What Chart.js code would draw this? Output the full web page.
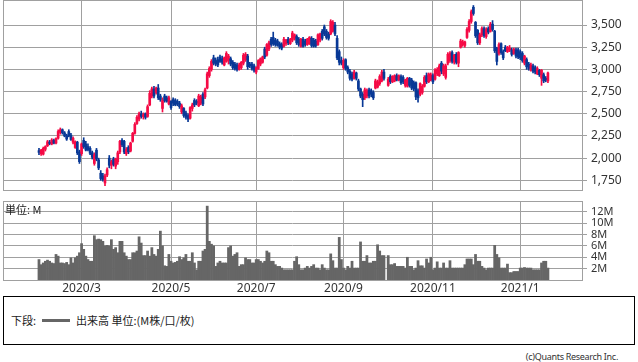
<!DOCTYPE html>
<html>
<head>
<meta charset="utf-8">
<script src="https://cdn.jsdelivr.net/npm/chart.js@4.4.0/dist/chart.umd.min.js"></script>
<style>
    body { margin: 0; background: #fff; width: 638px; height: 362px; position: relative; overflow: hidden; font-family: "Noto Sans", sans-serif; }
    #price { position: absolute; left: 0; top: 0; }
    #vol { position: absolute; left: 0; top: 195px; }
    #unit { position: absolute; left: 5px; top: 203px; font-size: 11px; line-height: 13px; color: #222; font-family: "Noto Sans CJK JP", sans-serif; }
    #legend { position: absolute; left: 3px; top: 296px; width: 630px; height: 47px; border: 1px solid #000; }
    #legend .row { position: absolute; left: 7px; top: 16px; display: flex; align-items: center; font-size: 11px; line-height: 15px; color: #222; font-family: "Noto Sans CJK JP", sans-serif; }
    #legend .swatch { display: inline-block; width: 28px; height: 3px; background: #666; margin: 0 6px 0 6px; }
    #copy { position: absolute; right: 20px; top: 350px; font-size: 9px; line-height: 14px; letter-spacing: -0.3px; color: #333; }
</style>
</head>
<body>
<canvas id="price" width="638" height="191"></canvas>
<canvas id="vol" width="638" height="100"></canvas>
<div id="unit">単位: M</div>
<div id="legend"><div class="row"><span>下段:</span><span class="swatch"></span><span>出来高 単位:(M株/口/枚)</span></div></div>
<div id="copy">(c)Quants Research Inc.</div>
<script>
// 2020/1/30 - 2021/1/22, one entry per trading day (10/1 no trading)
const monthTicks = [20, 62, 102, 143, 185, 226];
const monthLabels = ["2020/3", "2020/5", "2020/7", "2020/9", "2020/11", "2021/1"];
const priceTicks = [1750, 2000, 2250, 2500, 2750, 3000, 3250, 3500];
const volTicks = [2, 4, 6, 8, 10, 12];

const open = [
    2085,2050,2045,2100,2140,2180,2160,2200,2170,2225,
    2290,2320,2285,2250,2300,2260,2180,2120,2180,2070,
    2050,2200,2160,2130,2110,2060,1940,2090,1980,1830,
    1800,1720,1810,2000,1920,1990,1910,1960,2070,2200,
    2190,2050,2120,2080,2190,2280,2390,2440,2500,2470,
    2500,2470,2600,2700,2780,2740,2790,2700,2560,2700,
    2680,2610,2640,2660,2650,2640,2620,2520,2560,2510,
    2480,2450,2560,2650,2640,2590,2620,2720,2690,2790,
    2930,3000,3130,3100,3110,3140,3120,3050,3090,3100,
    3120,3080,3060,3050,3000,3020,3070,3110,3150,3060,
    3060,3040,2970,3010,3060,3080,3230,3160,3230,3340,
    3360,3330,3320,3290,3280,3260,3290,3340,3290,3330,
    3350,3370,3340,3260,3340,3320,3280,3290,3350,3330,
    3320,3280,3330,3430,3480,3430,3400,3400,3430,3500,
    3350,3200,3100,3020,3110,3020,2980,2950,2900,2960,
    2870,2780,2720,2680,2700,2770,2760,2740,2790,2800,
    2840,2870,2970,null,2820,2920,2860,2870,2930,2880,
    2920,2910,2820,2810,2900,2880,2850,2850,2760,2720,
    2740,2810,2930,2860,2880,2930,2890,2950,2930,3070,
    2950,2910,3070,3100,3190,3080,3170,3070,3250,3280,
    3270,3360,3440,3540,3700,3530,3440,3300,3390,3460,
    3370,3460,3430,3510,3430,3240,3180,3290,3200,3250,
    3200,3220,3220,3180,3220,3220,3200,3180,3070,3110,
    3060,2990,3040,3020,2950,2990,2900,2940,2900,2870
];
const high = [
    2110,2100,2125,2140,2200,2200,2220,2215,2230,2320,
    2340,2330,2300,2270,2320,2280,2240,2195,2190,2090,
    2170,2230,2190,2160,2130,2080,2060,2110,2000,1860,
    1830,1820,1890,2030,1980,2010,2000,2080,2200,2220,
    2200,2120,2140,2180,2290,2400,2480,2520,2530,2510,
    2510,2600,2760,2800,2810,2800,2830,2720,2680,2720,
    2700,2700,2650,2680,2670,2660,2640,2610,2570,2530,
    2500,2580,2620,2670,2660,2720,2710,2740,2790,2970,
    3030,3110,3160,3130,3140,3160,3150,3140,3200,3170,
    3140,3100,3080,3070,3070,3090,3180,3190,3170,3080,
    3080,3060,3030,3110,3130,3150,3250,3290,3320,3360,
    3420,3350,3340,3310,3300,3360,3340,3360,3350,3430,
    3400,3390,3360,3350,3360,3340,3350,3370,3370,3350,
    3340,3400,3410,3450,3500,3450,3420,3560,3550,3530,
    3380,3220,3140,3120,3120,3040,3000,2970,2990,2970,
    2890,2790,2740,2790,2780,2790,2780,2760,2890,2880,
    2940,2990,3000,null,2910,2940,2930,2940,2950,2940,
    2940,2930,2890,2910,2910,2900,2870,2860,2780,2850,
    2830,2930,2960,2960,2960,2950,3010,3020,3060,3090,
    3060,3060,3190,3200,3210,3170,3190,3200,3340,3330,
    3320,3470,3560,3670,3720,3540,3450,3410,3480,3480,
    3470,3480,3530,3550,3440,3250,3300,3300,3220,3270,
    3260,3270,3240,3240,3240,3240,3220,3200,3160,3130,
    3080,3070,3060,3040,3030,3000,3000,2960,2920,2970
];
const low = [
    2040,2030,2035,2080,2130,2150,2150,2160,2160,2215,
    2270,2270,2240,2200,2240,2200,2160,2110,2040,1940,
    2030,2110,2080,2080,2040,1990,1920,1970,1870,1750,
    1740,1690,1790,1890,1880,1910,1880,1930,2050,2130,
    2050,2030,2050,2070,2180,2270,2380,2420,2450,2440,
    2440,2460,2590,2680,2680,2720,2660,2640,2520,2630,
    2630,2600,2550,2590,2590,2590,2560,2500,2460,2440,
    2410,2440,2530,2580,2600,2580,2600,2590,2670,2780,
    2910,2980,3050,3040,3030,3080,3060,3040,3080,3060,
    3040,3000,2990,2980,2990,3000,3050,3090,3000,3020,
    2990,2970,2950,3000,3040,3070,3120,3150,3210,3260,
    3270,3260,3260,3230,3220,3250,3270,3280,3280,3310,
    3330,3280,3260,3250,3250,3260,3270,3280,3250,3250,
    3250,3270,3310,3330,3380,3340,3330,3390,3420,3380,
    3110,3050,3050,3000,2990,2950,2880,2870,2890,2880,
    2760,2680,2580,2660,2680,2680,2690,2660,2780,2790,
    2820,2860,2880,null,2810,2840,2850,2860,2870,2870,
    2830,2840,2800,2800,2800,2770,2760,2660,2630,2700,
    2720,2800,2840,2850,2870,2840,2880,2930,2920,2950,
    2930,2890,3050,3080,3070,3060,3060,3030,3240,3260,
    3250,3350,3420,3520,3610,3360,3280,3280,3370,3360,
    3350,3400,3420,3430,3190,3050,3160,3170,3110,3200,
    3190,3200,3150,3170,3130,3120,3110,3080,3050,3000,
    2990,2980,2960,2950,2940,2920,2820,2850,2860,2850
];
const close = [
    2065,2090,2110,2130,2185,2165,2205,2170,2220,2300,
    2320,2285,2250,2215,2250,2210,2225,2185,2060,1960,
    2160,2130,2090,2095,2055,2010,2040,1990,1890,1770,
    1760,1800,1870,1920,1960,1930,1990,2060,2190,2150,
    2070,2100,2070,2170,2280,2380,2460,2500,2470,2490,
    2460,2580,2730,2780,2700,2790,2680,2660,2650,2650,
    2640,2680,2570,2620,2600,2610,2580,2590,2480,2460,
    2440,2570,2600,2600,2620,2700,2690,2610,2770,2950,
    3010,3090,3070,3060,3050,3090,3080,3130,3180,3150,
    3060,3020,3010,3000,3050,3080,3160,3170,3030,3040,
    3010,2990,3020,3100,3120,3140,3140,3280,3300,3280,
    3290,3280,3270,3250,3240,3340,3330,3300,3340,3410,
    3390,3300,3280,3340,3260,3280,3340,3360,3270,3260,
    3270,3390,3400,3350,3400,3360,3350,3540,3530,3400,
    3130,3080,3070,3100,3010,2970,2900,2890,2970,2900,
    2780,2700,2660,2770,2760,2700,2720,2680,2870,2860,
    2920,2970,2900,null,2890,2860,2920,2930,2880,2930,
    2850,2860,2880,2900,2820,2790,2780,2690,2680,2840,
    2810,2910,2860,2950,2940,2860,2990,3000,3040,2980,
    3040,3040,3170,3180,3090,3160,3080,3190,3320,3310,
    3310,3450,3540,3650,3630,3380,3300,3390,3460,3380,
    3450,3420,3510,3450,3210,3090,3280,3190,3130,3210,
    3250,3240,3170,3230,3150,3140,3130,3100,3150,3030,
    3010,3050,2980,2970,3010,2940,2990,2870,2880,2960
];
// volume in millions of shares
const volume = [
    3.6,2.7,3.0,3.3,3.5,3.3,3.0,2.9,4.5,4.2,
    3.0,3.0,2.9,3.1,2.7,3.9,3.0,3.9,4.2,4.8,
    6.4,5.4,4.2,3.6,3.3,3.3,7.8,7.1,7.2,7.1,
    6.8,6.0,6.1,6.0,7.1,5.4,5.7,4.8,6.8,6.8,
    4.8,4.2,3.6,3.6,4.8,4.8,5.1,7.6,6.5,4.3,
    4.3,5.1,4.2,5.7,4.5,4.2,5.4,8.6,6.0,2.5,
    2.4,4.5,3.3,3.0,3.1,3.3,4.1,3.6,3.9,4.5,
    3.3,3.3,4.8,3.0,1.8,3.3,3.3,5.1,5.4,13.0,
    6.8,6.3,6.0,2.4,3.0,3.3,3.0,3.0,3.0,5.7,
    6.0,4.2,4.5,4.8,2.4,2.7,2.7,3.9,3.6,3.6,
    3.0,3.0,3.6,3.6,3.3,3.0,3.3,5.1,4.8,3.3,
    3.3,2.7,2.4,2.4,2.1,1.8,1.8,1.8,1.8,1.8,
    3.3,4.1,2.7,1.8,1.8,2.1,2.4,2.1,2.4,2.7,
    2.1,2.1,1.8,2.7,2.1,1.8,1.8,4.6,3.4,2.1,
    2.1,7.5,3.6,2.1,1.8,2.4,2.1,3.3,2.1,2.1,
    2.1,6.7,3.3,3.3,4.3,3.0,3.0,3.3,3.3,6.2,
    5.1,4.3,4.3,null,4.3,2.7,2.7,2.9,2.4,2.4,
    2.4,2.4,2.1,4.0,2.4,2.4,1.8,2.1,3.4,2.5,
    2.5,2.1,3.7,3.0,4.0,1.8,2.1,3.2,2.1,2.1,
    3.0,2.1,2.1,3.4,2.1,2.1,2.1,2.1,2.1,2.1,
    2.7,3.7,3.7,3.7,2.7,4.5,3.3,3.3,2.4,2.1,
    1.8,2.1,2.1,2.1,6.1,4.5,3.9,2.1,2.1,2.1,
    2.8,1.3,1.3,1.5,1.5,1.5,2.1,2.1,2.2,2.1,
    2.1,2.1,1.8,1.8,1.8,1.8,3.0,3.3,3.3,2.1
];

const RED = "#f50a45";
const BLUE = "#083896";
const GRID = "#a0a0a0";
const TEXT = "#333";

Chart.defaults.font.family = "'Noto Sans', sans-serif";
Chart.defaults.animation = false;

var bodies = [];
var wicks = [];
var colors = [];
var volData = [];
for (var i = 0; i < close.length; i++) {
    if (close[i] == null) continue;
    bodies.push({ x: i, y: [open[i], close[i]] });
    wicks.push({ x: i, y: [low[i], high[i]] });
    colors.push(close[i] >= open[i] ? RED : BLUE);
    volData.push({ x: i, y: volume[i] });
}

const frame = {
    id: "frame",
    afterDraw(chart) {
        const a = chart.chartArea;
        const ctx = chart.ctx;
        ctx.save();
        ctx.strokeStyle = GRID;
        ctx.lineWidth = 1;
        ctx.strokeRect(Math.round(a.left) + 0.5, Math.round(a.top) + 0.5,
            Math.round(a.right - a.left), Math.round(a.bottom - a.top));
        ctx.restore();
    },
};

// no extra room for half labels at the ends of the axes
function noPad(s) {
    s.paddingTop = 0;
    s.paddingBottom = 0;
    s.paddingLeft = 0;
    s.paddingRight = 0;
}

function xScale(showLabels) {
    return {
        type: "linear",
        min: -16.9,
        max: 255,
        offset: false,
        afterBuildTicks: function (s) {
            s.ticks = monthTicks.map(function (v) { return { value: v }; });
        },
        afterFit: function (s) {
            s.height = showLabels ? 15 : 0;
            noPad(s);
        },
        ticks: {
            display: showLabels,
            autoSkip: false,
            maxRotation: 0,
            padding: 1,
            color: TEXT,
            font: { size: 12 },
            callback: function (v, idx) { return monthLabels[idx]; },
        },
        grid: { color: GRID, offset: false, drawTicks: false },
        border: { display: false },
    };
}

function yScale(min, max, list, size, fmt) {
    return {
        position: "right",
        min: min,
        max: max,
        afterBuildTicks: function (s) {
            s.ticks = list.map(function (v) { return { value: v }; });
        },
        afterFit: function (s) {
            s.width = 56;
            noPad(s);
        },
        ticks: {
            autoSkip: false,
            padding: 4,
            color: TEXT,
            font: { size: size },
            callback: fmt,
        },
        grid: { color: GRID, tickLength: 5 },
        border: { display: false },
    };
}

new Chart(document.getElementById("price"), {
    type: "bar",
    data: {
        datasets: [
            { data: bodies, backgroundColor: colors, barThickness: 2, grouped: false, order: 0 },
            { data: wicks, backgroundColor: colors, barThickness: 1, grouped: false, order: 1 },
        ],
    },
    options: {
        responsive: false,
        layout: { padding: { left: 3, top: 0, right: 0, bottom: 1 } },
        plugins: { legend: { display: false }, tooltip: { enabled: false } },
        scales: {
            x: xScale(false),
            y: yScale(1641, 3782, priceTicks, 12, function (v) { return v.toLocaleString("en-US"); }),
        },
    },
    plugins: [frame],
});

new Chart(document.getElementById("vol"), {
    type: "bar",
    data: {
        datasets: [
            { data: volData, backgroundColor: "#666666", barThickness: 2.1, grouped: false },
        ],
    },
    options: {
        responsive: false,
        layout: { padding: { left: 3, top: 6, right: 0, bottom: 0 } },
        plugins: { legend: { display: false }, tooltip: { enabled: false } },
        scales: {
            x: xScale(true),
            y: yScale(0, 13.9, volTicks, 11, function (v) { return v + "M"; }),
        },
    },
    plugins: [frame],
});
</script>
</body>
</html>
